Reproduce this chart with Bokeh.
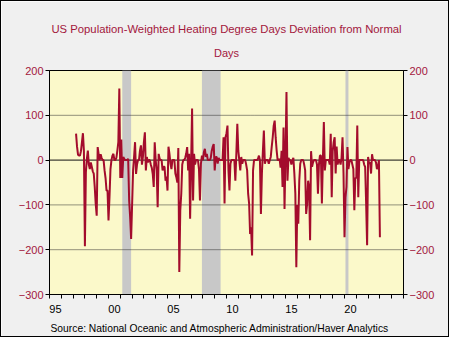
from bokeh.plotting import figure
from bokeh.models import (LinearAxis, FixedTicker, Range1d, Span, Title, Grid,
                          ColumnDataSource, CustomJSTickFormatter)
from bokeh.embed import file_html
from bokeh.resources import INLINE

# ---- data (monthly, starting April 1997) ----
start_year = 1997
start_month = 4
hdd_dev = [
    # 1997 Apr-Dec
    59, 30, 12, 10, 10, 20, 40, 60, 20,
    # 1998
    -192, -27, 3, 21, -10, -20, -5, -15, -25, -30, -60, -98,
    # 1999
    -124, 29, 13, 0, 13, 5, 0, 0, -23, -40, -68, -68,
    # 2000
    -135, -83, -20, 0, 10, 14, 0, 0, 5, 21, 40, 160,
    # 2001
    -40, 46, -40, 7, 3, 0, 0, 0, 3, -90, -127, -176,
    # 2002
    -100, -23, 7, 40, -31, -10, 0, 0, 21, 33, -10, 7,
    # 2003
    40, 62, -23, 7, -5, 0, 0, -10, -17, -31, -60, 40,
    # 2004
    0, -23, -105, 14, 3, 0, 0, -23, -15, -15, -46, -37,
    # 2005
    -68, 30, 14, -8, -20, 0, 0, 0, -30, -38, -50, 27,
    # 2006
    -250, -112, -75, -10, 0, 0, 5, 14, 29, -23, 14, -131,
    # 2007
    -10, 115, -90, 14, -10, 0, 0, 0, -20, -90, -8, 10,
    # 2008
    0, 18, 25, 7, 14, 0, 0, 0, 5, 21, 30, 36,
    # 2009
    -23, 7, 7, -8, 5, 0, 0, 0, 0, 51, -97, 51,
    # 2010
    60, 77, -23, -68, -8, 0, 0, 0, 0, -46, 14, 81,
    # 2011
    21, 0, -23, 7, -8, 0, 0, 0, -10, -23, -75, -97,
    # 2012
    -165, -150, -213, -23, 0, 0, 0, 0, 3, 10, 0, -120,
    # 2013
    -30, 20, 66, -8, 0, 0, 0, -8, 0, 7, 30, 51,
    # 2014
    77, 88, 50, 21, 0, 0, 3, -17, 21, -60, 73, -109,
    # 2015
    10, 152, -46, 5, 0, 0, -10, 0, 5, -30, -75, -239,
    # 2016
    -100, -142, -46, -8, 0, 0, 0, -10, -23, -120, -97, -46,
    # 2017
    -60, -179, 20, -15, -5, 0, 0, 0, -10, -75, -10, 10,
    # 2018
    10, -97, 0, 85, -23, 0, 0, 0, 0, -10, 59, -83,
    # 2019
    20, 40, 51, -30, 30, -10, 0, 0, -10, 5, 51, -30,
    # 2020
    -172, -83, -60, 29, -20, -5, 0, 0, -10, -20, -112, -40,
    # 2021
    -40, 77, -83, 0, 0, 0, 0, 0, -10, -15, -97, -190,
    # 2022
    7, -8, -5, -30, 13, 0, 0, 0, -5, -20, -15, 0,
    # 2023
    -172,
]
months = [start_year + (start_month - 1 + i) / 12.0 for i in range(len(hdd_dev))]

rec_start = [2001.167, 2007.917, 2020.083]
rec_end = [2001.917, 2009.5, 2020.333]

y_ticks = [-300, -200, -100, 0, 100, 200]
y_grid_dotted = [-200, -100, 100]
y_zero = [0]
x_label_pos = [1995.5, 2000.5, 2005.5, 2010.5, 2015.5, 2020.5]
x_year_ticks = list(range(1995, 2026))

title_text = "US Population-Weighted Heating Degree Days Deviation from Normal"
subtitle_text = "Days"
source_text = "Source:  National Oceanic and Atmospheric Administration/Haver Analytics"

CRIMSON = "#a3173d"
LINE = "#a30c2c"
FONT = "Liberation Sans"

p = figure(width=449, height=337, output_backend="svg", toolbar_location=None,
           x_range=Range1d(1995, 2025), y_range=Range1d(-300, 200),
           x_axis_location=None, y_axis_location=None,
           min_border_left=48, min_border_right=47, min_border_top=69, min_border_bottom=44,
           styles={"border": "1px solid black"})
p.title = None
for g in list(p.center):
    if isinstance(g, Grid):
        p.center.remove(g)
p.background_fill_color = "#fbf9ca"
p.border_fill_color = "#f0f0f0"
p.outline_line_color = "black"
p.outline_line_width = 1
p.outline_line_alpha = 1

# recession shading
rec_src = ColumnDataSource(dict(left=rec_start, right=rec_end,
                                bottom=[y_ticks[0]] * len(rec_start),
                                top=[y_ticks[-1]] * len(rec_start)))
p.quad(left="left", right="right", bottom="bottom", top="top", source=rec_src,
       fill_color="#c8c8c8", line_color=None, level="underlay")

# horizontal reference lines
for v in y_grid_dotted:
    p.add_layout(Span(location=v, dimension="width", line_color="#2a2a2a",
                      line_dash="1 1", line_width=1, level="underlay"))
for v in y_zero:
    p.add_layout(Span(location=v, dimension="width", line_color="#111111",
                      line_width=1, level="underlay"))

# data line
p.line(months, hdd_dev, line_color=LINE, line_width=2)

# axes
xa = LinearAxis(ticker=FixedTicker(ticks=x_label_pos, minor_ticks=x_year_ticks),
                formatter=CustomJSTickFormatter(code="var y = Math.floor(tick) % 100; return (y < 10 ? '0' : '') + y;"),
                major_tick_out=0, major_tick_in=0, minor_tick_out=4, minor_tick_in=0,
                major_label_standoff=6,
                axis_line_color="black", minor_tick_line_color="black",
                major_label_text_font=FONT, major_label_text_font_size="11px",
                major_label_text_color="black")
p.add_layout(xa, "below")

for side in ("left", "right"):
    ya = LinearAxis(ticker=FixedTicker(ticks=y_ticks),
                    major_tick_out=4, major_tick_in=0, minor_tick_out=0, minor_tick_in=0,
                    major_label_standoff=2,
                    axis_line_color="black", major_tick_line_color="black",
                    major_label_text_font=FONT, major_label_text_font_size="11px",
                    major_label_text_color=CRIMSON)
    p.add_layout(ya, side)

# titles
p.add_layout(Title(text=subtitle_text, align="center", vertical_align="top",
                   text_color=CRIMSON, standoff=20,
                   text_font=FONT, text_font_size="11px", text_font_style="normal"), "above")
p.add_layout(Title(text=title_text, align="center", text_color=CRIMSON, standoff=4,
                   text_font=FONT, text_font_size="11.3px", text_font_style="normal"), "above")
p.add_layout(Title(text=source_text, align="left", offset=1, text_color="black", standoff=10,
                   text_font=FONT, text_font_size="10.3px", text_font_style="normal"), "below")

open("out.html", "w").write(file_html(p, INLINE))
